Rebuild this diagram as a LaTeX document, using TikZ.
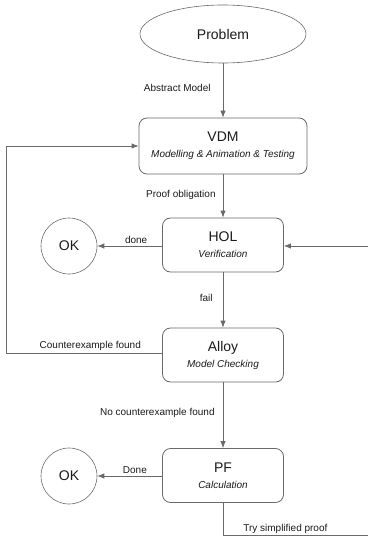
\documentclass[tikz,border=0pt]{standalone}
\usepackage{fontspec}
\setmainfont{Liberation Sans}
\usetikzlibrary{shapes.geometric, arrows.meta}

\definecolor{linegray}{HTML}{6A6A6A}
\definecolor{inkgray}{HTML}{1A1A1A}

% Box text: title and italic subtitle
\newcommand{\stagetext}[2]{{\fontsize{14}{16}\selectfont #1}\\[4pt]{\fontsize{10}{12}\selectfont\itshape #2}}

\begin{document}
\begin{tikzpicture}[x = 1pt, y = -1pt, > = {Latex[length = 7pt, width = 5.5pt]},
	every node/.style = {text = inkgray},
	flow/.style = {draw = linegray, line width = 0.8pt},
	stage/.style = {draw = linegray, line width = 0.8pt, rounded corners = 8pt, minimum height = 54pt, minimum width = 121pt, align = center, inner sep = 0pt},
	result/.style = {draw = linegray, line width = 0.6pt, circle, minimum size = 56pt, inner sep = 0pt, font = \fontsize{14}{16}\selectfont},
	note/.style = {font = \fontsize{10}{12}\selectfont, inner sep = 2pt}]

	% Definitions

	\def\X{223}		% Centre line of the flow
	\def\O{69}		% Centre line of the OK circles
	\def\W{6}		% Left return line
	\def\E{368}		% Right edge

	\useasboundingbox (0, 0) rectangle (368, 537);

	% Stages

	\node [draw = linegray, line width = 0.6pt, ellipse, minimum width = 166pt, minimum height = 58pt, font = \fontsize{14}{16}\selectfont] (problem) at (\X, 34) {Problem};
	\node [stage, minimum width = 168pt, minimum height = 56pt] (vdm) at (\X, 146) {\stagetext{VDM}{Modelling \& Animation \& Testing}};
	\node [stage] (hol) at (\X, 245) {\stagetext{HOL}{Verification}};
	\node [stage] (alloy) at (\X, 355) {\stagetext{Alloy}{Model Checking}};
	\node [stage] (pf) at (\X, 475.5) {\stagetext{PF}{Calculation}};

	% Results

	\node [result] (okhol) at (\O, 246) {OK};
	\node [result] (okpf) at (\O, 476) {OK};

	% Loose ends at the picture border

	\coordinate (leftcorner) at (\W, 353);
	\coordinate (bottomcorner) at (\X, 535.5);
	\coordinate (bottomend) at (\E, 535.5);
	\coordinate (rightend) at (\E, 246);

	% Main flow

	\draw [flow, ->] (problem) -- node [note, left, pos = 0.45, xshift = -10pt] {Abstract Model} (vdm);
	\draw [flow, ->] (vdm) -- node [note, left, pos = 0.48, xshift = -5pt] {Proof obligation} (hol);
	\draw [flow, ->] (hol) -- node [note, left, pos = 0.47, xshift = -8pt] {fail} (alloy);
	\draw [flow, ->] (alloy) -- node [note, left, pos = 0.47, xshift = -6pt] {No counterexample found} (pf);

	% Done

	\draw [flow, ->] (hol.west |- okhol) -- node [note, above, pos = 0.4] {done} (okhol);
	\draw [flow, ->] (pf.west |- okpf) -- node [note, above, pos = 0.42] {Done} (okpf);

	% Feedback loops

	\draw [flow, ->] (alloy.west |- leftcorner) -- node [note, above, pos = 0.46] {Counterexample found} (leftcorner) |- (vdm.west);
	\draw [flow] (pf) -- (bottomcorner) -- node [note, above, pos = 0.43] {Try simplified proof} (bottomend);
	\draw [flow, ->] (rightend) -- (hol.east |- rightend);

\end{tikzpicture}
\end{document}
